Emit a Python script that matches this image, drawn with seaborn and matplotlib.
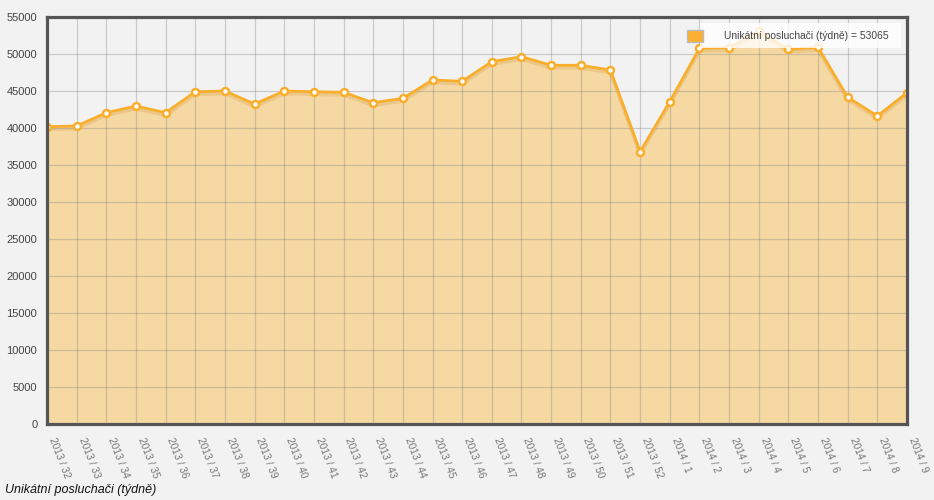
import matplotlib
matplotlib.use("Agg")
import matplotlib.pyplot as plt
import seaborn as sns
import pandas as pd
from matplotlib.patches import Rectangle

weeks = ["2013 / 32", "2013 / 33", "2013 / 34", "2013 / 35", "2013 / 36", "2013 / 37",
         "2013 / 38", "2013 / 39", "2013 / 40", "2013 / 41", "2013 / 42", "2013 / 43",
         "2013 / 44", "2013 / 45", "2013 / 46", "2013 / 47", "2013 / 48", "2013 / 49",
         "2013 / 50", "2013 / 51", "2013 / 52", "2014 / 1", "2014 / 2", "2014 / 3",
         "2014 / 4", "2014 / 5", "2014 / 6", "2014 / 7", "2014 / 8", "2014 / 9"]
listeners = [40180, 40270, 42070, 42970, 42070, 44900,
             45000, 43240, 45000, 44900, 44820, 43420,
             44010, 46490, 46310, 48960, 49640, 48470,
             48470, 47840, 36800, 43560, 50770, 50860,
             53065, 50630, 50900, 44150, 41620, 44770]
y_ticks = list(range(0, 55001, 5000))
series_name = "Unikátní posluchači (týdně)"
legend_value = 53065

df = pd.DataFrame({"idx": range(len(weeks)), "value": listeners})

sns.set_theme(style="white")
plt.rcParams["font.family"] = ["Liberation Sans", "DejaVu Sans"]

bg = "#f2f2f2"
orange = "#f9ae2c"
fill = "#f6d9a2"
W, H = 934, 500

fig = plt.figure(figsize=(W / 100, H / 100), dpi=100, facecolor=bg)
ax = fig.add_axes([47/W, 1-424/H, (907-47)/W, (424-17)/H])
ax.set_facecolor(bg)

ax.fill_between(df["idx"], df["value"], 0, color=fill, zorder=1, linewidth=0)
# soft shadow under the line
ax.plot(df["idx"], df["value"] - 350, color="#d9a860", alpha=0.35, lw=2.6, zorder=2)
sns.lineplot(data=df, x="idx", y="value", ax=ax, color=orange, lw=2.0, zorder=3,
             marker="o", markersize=5, markerfacecolor="white",
             markeredgecolor=orange, markeredgewidth=1.8)

ax.set_xlim(0, len(weeks) - 1)
ax.set_ylim(0, 55000)
ax.set_xticks(range(len(weeks)))
ax.set_xticklabels(weeks, rotation=-69, ha="left", va="bottom", rotation_mode="anchor",
                   fontsize=7.3, color="#777777")
ax.set_yticks(y_ticks)
ax.set_yticklabels([str(v) for v in y_ticks], fontsize=8, color="#444444")
ax.tick_params(axis="x", length=0, pad=11)
ax.tick_params(axis="y", length=0, pad=7)
ax.set_xlabel("")
ax.set_ylabel("")

ax.grid(True, color="#8a8a8a", alpha=0.38, lw=0.9)
ax.set_axisbelow(False)
for line in ax.get_xgridlines() + ax.get_ygridlines():
    line.set_zorder(2)

for s in ax.spines.values():
    s.set_color("#555555")
    s.set_linewidth(2.3)
    s.set_zorder(5)

# legend box (semi-transparent white) with colour swatch and text
fig.add_artist(Rectangle((700/W, 1-48/H), 201/W, 25/H, transform=fig.transFigure,
                         facecolor="white", alpha=0.8, edgecolor="none", zorder=6))
fig.add_artist(Rectangle((687/W, 1-42/H), 16/W, 12/H, transform=fig.transFigure,
                         facecolor="#fbb034", edgecolor="#bbbbbb", lw=1, zorder=7))
fig.text(724/W, 1-36/H, f"{series_name} = {legend_value}", fontsize=7.4,
         color="#444444", ha="left", va="center", zorder=8)

fig.text(5/W, 1-490/H, series_name, fontsize=9, style="italic", color="#111111",
         ha="left", va="center")

fig.savefig("out.png", dpi=100, facecolor=bg)
